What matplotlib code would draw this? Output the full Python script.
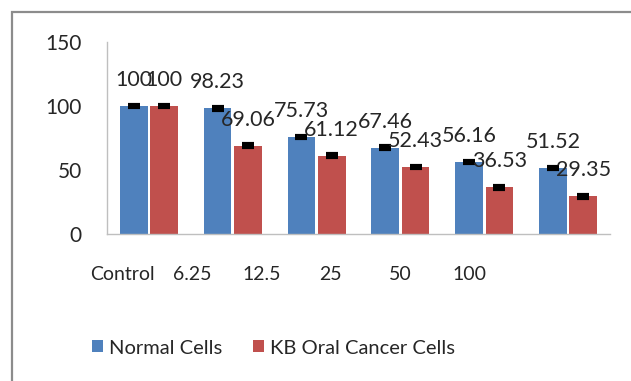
import numpy as np
import matplotlib
matplotlib.use('Agg')
from matplotlib import pyplot as plt
from matplotlib.patches import Rectangle

# data
CATEGORIES   = ['Control', '6.25', '12.5', '25', '50', '100']
NORMAL       = [100, 98.23, 75.73, 67.46, 56.16, 51.52]
KB_CANCER    = [100, 69.06, 61.12, 52.43, 36.53, 29.35]
NORMAL_ERR   = [1.0, 1.0, 1.0, 1.0, 1.0, 1.0]
KB_ERR       = [1.0, 1.0, 1.0, 1.0, 1.0, 1.0]
Y_TICKS      = [0, 50, 100, 150]

BLUE = '#4F81BD'
RED  = '#C0504D'
TXT  = '#262626'

plt.rcParams['font.family'] = ['Lato', 'DejaVu Sans']

fig = plt.figure(figsize=(6.31, 3.81), dpi=100)
ax = fig.add_axes([107/631, 1-234/381, (610-107)/631, (234-42)/381])

# outer chart border (cut off at right/bottom)
fig.patches.append(Rectangle((12/631, -0.05), 1.1, 1 - 12/381 + 0.05,
                             transform=fig.transFigure, fill=False,
                             edgecolor='#8c8c8c', linewidth=1.6))

x = np.arange(len(CATEGORIES))
w = 0.33
off = 0.18

b1 = ax.bar(x - off, NORMAL, w, color=BLUE, label='Normal Cells', zorder=2)
b2 = ax.bar(x + off, KB_CANCER, w, color=RED, label='KB Oral Cancer Cells', zorder=2)
ax.errorbar(x - off, NORMAL, yerr=NORMAL_ERR, fmt='none', ecolor='black',
            elinewidth=2.5, capsize=4.5, capthick=3, zorder=3)
ax.errorbar(x + off, KB_CANCER, yerr=KB_ERR, fmt='none', ecolor='black',
            elinewidth=2.5, capsize=4.5, capthick=3, zorder=3)

for xs, vals in ((x - off, NORMAL), (x + off, KB_CANCER)):
    for xi, v in zip(xs, vals):
        ax.annotate(f'{v:g}', (xi, v), xytext=(0, 26), textcoords='offset pixels',
                    ha='center', va='center', fontsize=15.5, color=TXT)

ax.set_xlim(-0.5, len(CATEGORIES) - 0.5)
ax.set_ylim(0, 150)
ax.set_yticks(Y_TICKS)
ax.tick_params(axis='y', length=0, pad=18, labelsize=15, labelcolor=TXT)

# category labels sit on a tighter spacing than the bar groups in the source
ax.set_xticks(-0.31 + 0.826 * x)
ax.set_xticklabels(CATEGORIES)
ax.tick_params(axis='x', length=0, pad=23, labelsize=14, labelcolor=TXT)

for s in ('top', 'right'):
    ax.spines[s].set_visible(False)
for s in ('left', 'bottom'):
    ax.spines[s].set_color('#bfbfbf')
    ax.spines[s].set_linewidth(1.0)

fig.legend(handles=[b1, b2], loc='center left', bbox_to_anchor=(74/631, 1-348/381),
           ncol=2, frameon=False, fontsize=14.5, handlelength=0.55, handleheight=0.55,
           handletextpad=0.3, columnspacing=1.5, labelcolor=TXT)

fig.savefig('out.png', dpi=100)
